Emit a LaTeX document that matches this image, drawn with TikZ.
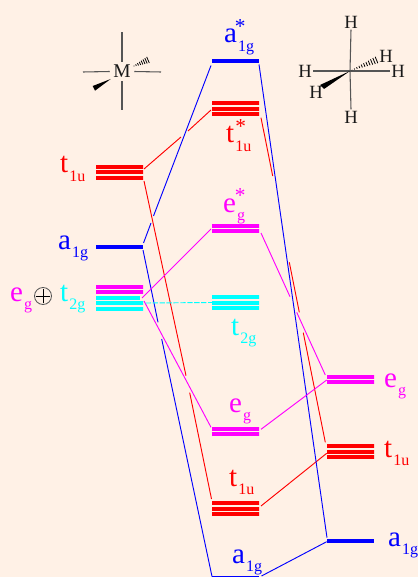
\documentclass[tikz,border=0pt]{standalone}
\usepackage{fontspec}
\setmainfont{Liberation Serif}
\usepackage{xcolor}
\definecolor{paper}{RGB}{255,241,230}
\definecolor{orbblue}{RGB}{0,0,255}
\definecolor{orbred}{RGB}{255,0,0}
\definecolor{orbmag}{RGB}{255,0,255}
\definecolor{orbcyan}{RGB}{0,255,255}
\definecolor{bondgray}{RGB}{85,85,85}
\newcommand{\orb}[3]{#1\rlap{\raisebox{7pt}{\fontsize{16}{16}\selectfont #3}}{\kern1pt\raisebox{-6.5pt}{\fontsize{12}{12}\selectfont #2}}}
\tikzset{
	onebar/.style={inner sep=0, outer sep=0, minimum width=35.25pt, minimum height=3pt, fill=#1},
	twobar/.style={inner sep=0, outer sep=0, minimum width=35.25pt, minimum height=6.75pt,
		path picture={
			\fill[#1,shift={(path picture bounding box.center)}] (-24,-4.5) rectangle (24,-0.5);
			\fill[#1,shift={(path picture bounding box.center)}] (-24,0.5) rectangle (24,4.5);
		}},
	threebar/.style={inner sep=0, outer sep=0, minimum width=35.25pt, minimum height=11.25pt,
		path picture={
			\fill[#1,shift={(path picture bounding box.center)}] (-24,-7.5) rectangle (24,-3.5);
			\fill[#1,shift={(path picture bounding box.center)}] (-24,-2) rectangle (24,2);
			\fill[#1,shift={(path picture bounding box.center)}] (-24,3.5) rectangle (24,7.5);
		}},
	orblabel/.style={inner sep=0, outer sep=0, anchor=base west, font=\fontsize{21.75}{22}\selectfont, text=#1},
	orbline/.style={draw=#1, line width=0.7pt},
	bond/.style={draw=bondgray, line width=0.8pt},
	atom/.style={inner sep=1pt, text=black!90, font=\fontsize{14}{14}\selectfont},
}
\begin{document}
\begin{tikzpicture}[x=0.75pt,y=-0.75pt]
	\useasboundingbox[fill=paper] (0,0) rectangle (418,577);

	\node[threebar=orbred] (tleft) at (119.5,172.5) {};
	\node[onebar=orbblue] (aleft) at (119.5,246.5) {};
	\node[twobar=orbmag] (eleft) at (119.5,289.5) {};
	\node[threebar=orbcyan] (sleft) at (119.5,303) {};
	\fill[paper] (140,295) rectangle (144,300);

	\node[onebar=orbblue] (astar) at (235.5,61) {};
	\node[threebar=orbred] (tstar) at (235.5,109) {};
	\node[twobar=orbmag] (estar) at (235.5,228.5) {};
	\node[threebar=orbcyan] (smid) at (235.5,302.5) {};
	\node[twobar=orbmag] (elow) at (235.5,431.5) {};
	\node[threebar=orbred] (tlow) at (235.5,508.5) {};
	\node[onebar=orbblue] (alow) at (235.5,577.5) {};

	\node[twobar=orbmag] (eright) at (350.5,379.5) {};
	\node[threebar=orbred] (tright) at (350.5,451.5) {};
	\node[onebar=orbblue] (aright) at (350.5,541) {};

	\node[orblabel=orbred] (tleftlab) at (60,173) {\orb{t}{1u}{}};
	\node[orblabel=orbblue] (aleftlab) at (58,249) {\orb{a}{1g}{}};
	\node[orblabel=orbmag] (eleftlab) at (10,301) {\orb{e}{g}{}};
	\node[draw=bondgray, circle, inner sep=0, minimum size=12.75pt, line width=0.6pt] (oplus) at (43,296) {};
	\draw[black, line width=0.6pt] ([xshift=-5.5]oplus.center) -- ([xshift=5.5]oplus.center);
	\draw[black, line width=0.6pt] ([yshift=-5.5]oplus.center) -- ([yshift=5.5]oplus.center);
	\node[orblabel=orbcyan] (sleftlab) at (60,301) {\orb{t}{2g}{}};

	\node[orblabel=orbblue] (astarlab) at (224,43) {\orb{a}{1g}{\kern-1.5pt*}};
	\node[orblabel=orbred] (tstarlab) at (226,143) {\orb{t}{1u}{\kern1pt*}};
	\node[orblabel=orbmag] (estarlab) at (223,212) {\orb{e}{g}{\kern-0.8pt*}};
	\node[orblabel=orbcyan] (smidlab) at (231,335) {\orb{t}{2g}{}};
	\node[orblabel=orbmag] (elowlab) at (229,412) {\orb{e}{g}{}};
	\node[orblabel=orbred] (tlowlab) at (229,486) {\orb{t}{1u}{}};
	\node[orblabel=orbblue] (alowlab) at (232,563) {\orb{a}{1g}{}};
	\node[orblabel=orbmag] (erightlab) at (384,387) {\orb{e}{g}{}};
	\node[orblabel=orbred] (trightlab) at (384,457) {\orb{t}{1u}{}};
	\node[orblabel=orbblue] (arightlab) at (388,546) {\orb{a}{1g}{}};

	\coordinate (redtopa) at (181,137);
	\coordinate (redtopb) at (188,131);
	\coordinate (bluetopa) at (151,223);
	\coordinate (bluetopb) at (153.5,216);
	\coordinate (bluelefta) at (158,322.3);
	\coordinate (blueleftb) at (161.7,339);
	\coordinate (redlefta) at (186,375.7);
	\coordinate (redleftb) at (189.7,392.7);
	\coordinate (redrighta) at (272.7,176);
	\coordinate (redrightb) at (289.3,262.3);
	\coordinate (redrightc) at (299.3,312.3);
	\coordinate (redrightd) at (303.3,332.7);
	\coordinate (magrighta) at (290,296.7);
	\coordinate (magrightb) at (296.7,312.3);

	\draw[orbline=orbred] ([shift={(1,-3.5)}]tleft.east) -- (redtopa) (redtopb) -- ([shift={(-1,1)}]tstar.west);
	\draw[orbline=orbred] ([shift={(1,8.5)}]tleft.east) -- (redlefta) (redleftb) -- ([shift={(-0.5,-9.5)}]tlow.west);
	\draw[orbline=orbred] ([shift={(2,8.7)}]tstar.east) -- (redrighta) (redrightb) -- (redrightc) (redrightd) -- ([shift={(-1.7,-9.2)}]tright.west);
	\draw[orbline=orbred] ([shift={(2,-2.5)}]tlow.east) -- ([shift={(-0.3,1.8)}]tright.west);

	\draw[orbline=orbblue] ([shift={(0.5,-3.5)}]aleft.east) -- (bluetopa) (bluetopb) -- ([shift={(-1,4.5)}]astar.west);
	\draw[orbline=orbblue] ([shift={(0,3.5)}]aleft.east) -- (bluelefta) (blueleftb) -- ([shift={(0,-1)}]alow.west);
	\draw[orbline=orbblue] ([shift={(0,3.5)}]astar.east) -- ([shift={(0,-3.3)}]aright.west);
	\draw[orbline=orbblue] ([shift={(2.5,-1.5)}]alow.east) -- ([shift={(-0.3,0.7)}]aright.west);

	\draw[orbline=orbmag] ([shift={(-1,-5)}]sleft.east) -- ([shift={(-1,0.5)}]estar.west);
	\draw[orbline=orbmag] ([shift={(1,-2)}]sleft.east) -- ([shift={(-1,-4.2)}]elow.west);
	\draw[orbline=orbmag] ([shift={(2,4.5)}]estar.east) -- (magrighta) (magrightb) -- ([shift={(-1.7,-4.5)}]eright.west);
	\draw[orbline=orbmag] ([shift={(2,-2.2)}]elow.east) -- ([shift={(-0.3,0.5)}]eright.west);

	\draw[orbline=orbcyan, dash pattern=on 4pt off 1.2pt] ([xshift=2]sleft.east) -- (smid.west);

	\node[inner sep=2.5pt, text=black!90, font=\fontsize{14.6}{14.6}\selectfont] (metal) at (122,71.5) {M};
	\coordinate (mtop) at (122,32);
	\coordinate (mbot) at (122,110);
	\coordinate (mleft) at (83,72);
	\coordinate (mright) at (161,72);
	\draw[bond] (metal.north) -- (mtop);
	\draw[bond] (metal.south) -- (mbot);
	\draw[bond] (metal.west) -- (mleft);
	\draw[bond] (metal.east) -- (mright);
	\fill[black] (110.7,79) -- (92.7,86) -- (95,90.7) -- cycle;
	\foreach \t in {0,1,...,7}
		\draw[black, line width=0.6pt, shift={(134+2*\t,66-0.86*\t)}] ({0.4*(0.4+0.42*\t)},{0.92*(0.4+0.42*\t)}) -- ({-0.4*(0.4+0.42*\t)},{-0.92*(0.4+0.42*\t)});

	\coordinate (carbon) at (350,71);
	\node[atom] (htop) at (351,22) {H};
	\node[atom] (hbot) at (351,117) {H};
	\node[atom] (hleft) at (305,71) {H};
	\node[atom] (hright) at (398,71) {H};
	\node[atom] (hwedge) at (316,92) {H};
	\node[atom] (hhash) at (386,56) {H};
	\draw[bond] (carbon) -- (htop.south);
	\draw[bond] (carbon) -- (hbot.north);
	\draw[bond] (carbon) -- (hleft.east);
	\draw[bond] (carbon) -- (hright.west);
	\fill[black] (carbon) -- (320,85) -- (324,89) -- cycle;
	\foreach \t in {0,1,...,10}
		\draw[black, line width=0.6pt, shift={(352+2.45*\t,70-\t)}] ({0.38*(0.2+0.33*\t)},{0.92*(0.2+0.33*\t)}) -- ({-0.38*(0.2+0.33*\t)},{-0.92*(0.2+0.33*\t)});
\end{tikzpicture}
\end{document}
